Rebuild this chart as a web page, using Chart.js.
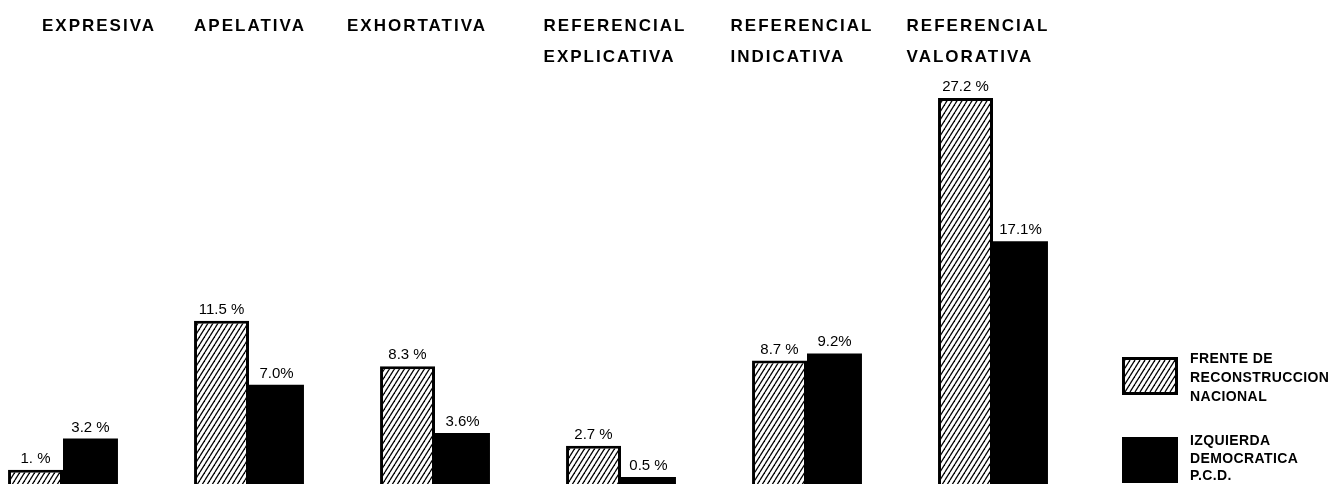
<!DOCTYPE html>
<html>
<head>
<meta charset="utf-8">
<title>Funciones del discurso</title>
<script src="https://cdn.jsdelivr.net/npm/chart.js@4.4.0/dist/chart.umd.min.js"></script>
<style>
    html, body { margin: 0; padding: 0; background: #fff; overflow: hidden; }
    #wrap { position: absolute; left: -30px; top: 0; width: 1367px; height: 484px; }
</style>
</head>
<body>
<div id="wrap"><canvas id="chart" width="1367" height="484"></canvas></div>
<script>
// ---- data ----
const categories = [
    ['EXPRESIVA'],
    ['APELATIVA'],
    ['EXHORTATIVA'],
    ['REFERENCIAL', 'EXPLICATIVA'],
    ['REFERENCIAL', 'INDICATIVA'],
    ['REFERENCIAL', 'VALORATIVA']
];
const frenteValues    = [1.0, 11.5, 8.3, 2.7, 8.7, 27.2];
const izquierdaValues = [3.2, 7.0, 3.6, 0.5, 9.2, 17.1];
const frenteLabels    = ['1. %', '11.5 %', '8.3 %', '2.7 %', '8.7 %', '27.2 %'];
const izquierdaLabels = ['3.2 %', '7.0%', '3.6%', '0.5 %', '9.2%', '17.1%'];
const frenteName      = ['FRENTE DE', 'RECONSTRUCCION', 'NACIONAL'];
const izquierdaName   = ['IZQUIERDA', 'DEMOCRATICA', 'P.C.D.'];

// headings are not quite centred over their groups in the original
const headingShift = [36, 1, -18, -6, -5, -15];

// diagonal hatch used for the first series
function makeHatch() {
    const c = document.createElement('canvas');
    c.width = 5; c.height = 8;
    const g = c.getContext('2d');
    g.fillStyle = '#fff';
    g.fillRect(0, 0, 5, 8);
    g.strokeStyle = '#000';
    g.lineWidth = 1.3;
    [-5, 0, 5].forEach(dx => {
        g.beginPath();
        g.moveTo(dx, 8);
        g.lineTo(dx + 5, 0);
        g.stroke();
    });
    return g.createPattern(c, 'repeat');
}
const hatch = makeHatch();

const FONT = '"Liberation Sans", Arial, sans-serif';

// headings, value labels and the legend
const annotate = {
    id: 'annotate',
    afterDatasetsDraw(chart) {
        const ctx = chart.ctx;
        const xs = chart.scales.x;
        ctx.save();
        ctx.fillStyle = '#000';
        ctx.textBaseline = 'alphabetic';

        // category headings (top)
        ctx.font = 'bold 17px ' + FONT;
        ctx.letterSpacing = '2px';
        ctx.textAlign = 'left';
        categories.forEach((lines, i) => {
            const cx = xs.getPixelForValue(i) + headingShift[i];
            const w = ctx.measureText(lines[0]).width;
            lines.forEach((t, k) => ctx.fillText(t, cx - w / 2, 31 + k * 31));
        });

        // value labels above bars
        ctx.font = '15px ' + FONT;
        ctx.letterSpacing = '0px';
        ctx.textAlign = 'center';
        [frenteLabels, izquierdaLabels].forEach((labels, d) => {
            chart.getDatasetMeta(d).data.forEach((bar, i) => {
                ctx.fillText(labels[i], bar.x, bar.y - 7);
            });
        });

        // legend (right side)
        const ds = chart.data.datasets;
        const bx = 1152, bw = 56, tx = 1220;
        // hatched box
        ctx.fillStyle = ds[0].backgroundColor;
        ctx.fillRect(bx, 357, bw, 38);
        ctx.strokeStyle = '#000';
        ctx.lineWidth = 3;
        ctx.strokeRect(bx + 1.5, 357 + 1.5, bw - 3, 38 - 3);
        // solid box
        ctx.fillStyle = ds[1].backgroundColor;
        ctx.fillRect(bx, 437, bw, 46);

        ctx.fillStyle = '#000';
        ctx.font = 'bold 14px ' + FONT;
        ctx.letterSpacing = '0.4px';
        ctx.textAlign = 'left';
        ds[0].label.forEach((t, k) => ctx.fillText(t, tx, 363 + k * 19));
        ds[1].label.forEach((t, k) => ctx.fillText(t, tx, 445 + k * 17.5));
        ctx.restore();
    }
};

const chart = new Chart(document.getElementById('chart').getContext('2d'), {
    type: 'bar',
    data: {
        labels: categories.map(c => c.join(' ')),
        datasets: [
            {
                label: frenteName,
                data: frenteValues,
                backgroundColor: hatch,
                borderColor: '#000',
                borderWidth: 3,
                borderSkipped: 'bottom',
                categoryPercentage: 0.591,
                barPercentage: 1.0
            },
            {
                label: izquierdaName,
                data: izquierdaValues,
                backgroundColor: '#000',
                borderWidth: 0,
                categoryPercentage: 0.591,
                barPercentage: 1.0
            }
        ]
    },
    options: {
        responsive: false,
        animation: false,
        devicePixelRatio: 1,
        layout: { padding: { left: 0, right: 251, top: 0, bottom: 0 } },
        scales: {
            x: { display: false, offset: true },
            y: { display: false, min: 0, max: 34.1 }
        },
        plugins: {
            legend: { display: false },
            tooltip: { enabled: false }
        }
    },
    plugins: [annotate]
});
</script>
</body>
</html>
